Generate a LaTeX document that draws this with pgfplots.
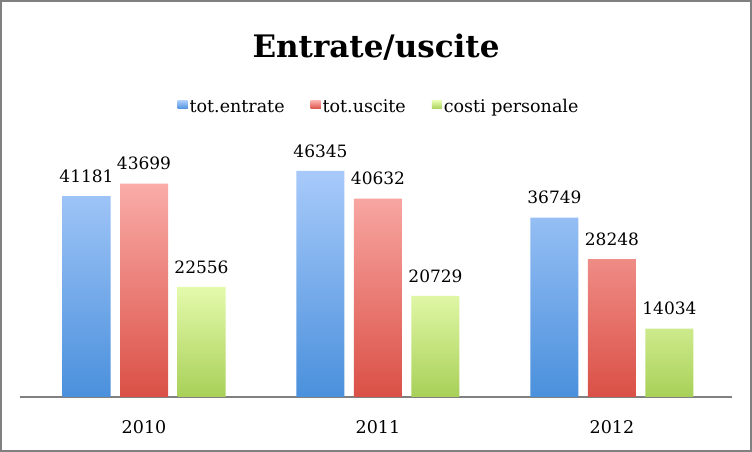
\documentclass[border=0pt]{standalone}
\usepackage{pgfplots}
\pgfplotsset{compat=1.18}
\usepackage{fontspec}
\setmainfont{DejaVu Serif}
\definecolor{bTop}{RGB}{168,202,250}
\definecolor{bBot}{RGB}{74,144,220}
\definecolor{rTop}{RGB}{250,172,168}
\definecolor{rBot}{RGB}{218,80,70}
\definecolor{gTop}{RGB}{228,250,172}
\definecolor{gBot}{RGB}{168,208,88}
\definecolor{frame}{RGB}{128,128,128}
\begin{document}
\begin{tikzpicture}[x=1pt,y=1pt]
\fill[white] (0,0) rectangle (752,452);
\draw[frame, line width=2pt] (1,1) rectangle (751,451);
\node[font=\fontsize{31}{34}\selectfont\bfseries] at (376,405) {Entrate/uscite};
\begin{axis}[
  at={(20pt,55pt)}, anchor=south west,
  scale only axis, width=712pt, height=244pt,
  xmin=-0.53, xmax=2.513, ymin=0, ymax=50000,
  axis y line=none,
  axis x line*=bottom,
  x axis line style={draw=frame, line width=1.5pt, -},
  xtick={0,1,2}, xticklabels={2010,2011,2012},
  major tick length=0pt,
  xticklabel style={font=\fontsize{17.5}{20}\selectfont, yshift=-20pt},
  /pgf/number format/assume math mode=true,
  ybar, bar width=48pt,
  nodes near coords,
  every node near coord/.append style={font=\fontsize{17}{20}\selectfont, yshift=10pt, /pgf/number format/fixed, /pgf/number format/1000 sep={}},
  legend columns=3,
  legend style={draw=none, fill=none, at={(0.5,1.0)}, anchor=center, xshift=3pt, yshift=46pt,
    font=\fontsize{17.5}{20}\selectfont, /tikz/every even column/.append style={column sep=24pt}},
  legend cell align=left,
]
\addplot[draw=none, top color=bTop, bottom color=bBot, bar shift=-57.5pt,
  legend image code/.code={\fill[bBot!70!bTop] (0pt,-2pt) rectangle (10pt,6pt);}]
  coordinates {(0,41181) (1,46345) (2,36749)};
\addplot[draw=none, top color=rTop, bottom color=rBot, bar shift=0pt,
  legend image code/.code={\fill[rBot!70!rTop] (0pt,-2pt) rectangle (10pt,6pt);}]
  coordinates {(0,43699) (1,40632) (2,28248)};
\addplot[draw=none, top color=gTop, bottom color=gBot, bar shift=57.5pt,
  legend image code/.code={\fill[gBot!70!gTop] (0pt,-2pt) rectangle (10pt,6pt);}]
  coordinates {(0,22556) (1,20729) (2,14034)};
\legend{tot.entrate, tot.uscite, costi personale}
\end{axis}
\end{tikzpicture}
\end{document}
